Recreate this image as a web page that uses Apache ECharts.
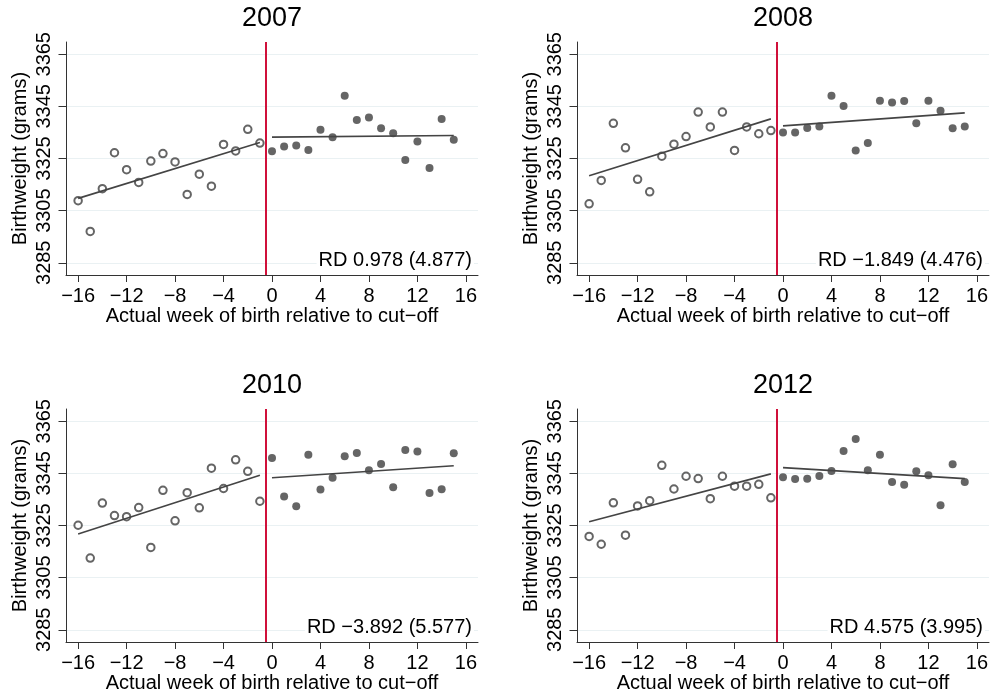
<!DOCTYPE html>
<html>
<head>
<meta charset="utf-8">
<script src="https://cdn.jsdelivr.net/npm/echarts@6/dist/echarts.min.js"></script>
<style>
html, body { margin: 0; padding: 0; background: #fff; }
#chart { width: 992px; height: 696px; }
</style>
</head>
<body>
<div id="chart"></div>
<script>
// data
var years = ['2007', '2008', '2010', '2012'];
var weeksBefore = [-16, -15, -14, -13, -12, -11, -10, -9, -8, -7, -6, -5, -4, -3, -2, -1];
var weeksAfter = [0, 1, 2, 3, 4, 5, 6, 7, 8, 9, 10, 11, 12, 13, 14, 15];
var xTicks = [-16, -12, -8, -4, 0, 4, 8, 12, 16];
var yTicks = [3285, 3305, 3325, 3345, 3365];

var before2007 = [3308.8, 3297.0, 3313.4, 3327.2, 3320.7, 3315.8, 3324.0, 3326.9, 3323.7, 3311.2, 3319.0, 3314.4, 3330.4, 3327.9, 3336.2, 3330.9];
var after2007 = [3327.8, 3329.6, 3330.0, 3328.3, 3336.0, 3333.2, 3349.1, 3339.8, 3340.7, 3336.6, 3334.7, 3324.4, 3331.5, 3321.4, 3340.2, 3332.2];
var before2008 = [3307.6, 3316.6, 3338.5, 3329.1, 3317.0, 3312.2, 3325.9, 3330.5, 3333.4, 3342.8, 3337.1, 3342.8, 3328.1, 3337.1, 3334.5, 3335.7];
var after2008 = [3335.0, 3335.0, 3336.7, 3337.3, 3349.1, 3345.1, 3328.1, 3330.9, 3347.2, 3346.5, 3347.1, 3338.5, 3347.2, 3343.3, 3336.6, 3337.3];
var before2010 = [3325.1, 3312.5, 3333.6, 3328.8, 3328.4, 3331.9, 3316.6, 3338.5, 3326.8, 3337.6, 3331.8, 3347.0, 3339.2, 3350.2, 3345.8, 3334.3];
var after2010 = [3350.9, 3336.1, 3332.4, 3352.1, 3338.8, 3343.3, 3351.6, 3352.8, 3346.2, 3348.6, 3339.7, 3354.0, 3353.4, 3337.5, 3338.9, 3352.7];
var before2012 = [3320.8, 3317.8, 3333.7, 3321.3, 3332.5, 3334.5, 3348.1, 3339.0, 3343.9, 3343.0, 3335.3, 3343.9, 3340.1, 3340.1, 3340.8, 3335.6];
var after2012 = [3343.5, 3342.8, 3342.9, 3344.0, 3345.9, 3353.6, 3358.2, 3346.2, 3352.1, 3341.7, 3340.6, 3345.8, 3344.3, 3332.8, 3348.5, 3341.7];

// fitted lines, value at first and last week of each side
var fitLeftX = [-16, -1];
var fitRightX = [0, 15];
var fitLeft = [[3309.7, 3331.1], [3318.4, 3340.2], [3321.7, 3344.3], [3326.4, 3344.8]];
var fitRight = [[3333.2, 3333.8], [3337.5, 3342.5], [3343.3, 3347.9], [3347.2, 3343.0]];
var rdLabels = ['RD 0.978 (4.877)', 'RD \u22121.849 (4.476)', 'RD \u22123.892 (5.577)', 'RD 4.575 (3.995)'];
var cutoff = -0.5;

var before = [before2007, before2008, before2010, before2012];
var after = [after2007, after2008, after2010, after2012];

var font = '"Liberation Sans", Arial, sans-serif';
var ink = '#3f3f3f';
var axisColor = '#333';

var panels = [
    { left: 66, top: 42 },
    { left: 577, top: 42 },
    { left: 66, top: 409 },
    { left: 577, top: 409 }
];
var pw = 412, ph = 233;

function zip(xs, ys) {
    return xs.map(function (x, i) { return [x, ys[i]]; });
}
function minus(v) {
    return String(v).replace('-', '\u2212');
}

var grid = [], xAxis = [], yAxis = [], series = [], title = [], graphic = [];

panels.forEach(function (p, i) {
    grid.push({ left: p.left, top: p.top, width: pw, height: ph });

    xAxis.push({
        gridIndex: i, type: 'value', min: -17, max: 17,
        name: 'Actual week of birth relative to cut\u2212off',
        nameLocation: 'middle', nameGap: 31,
        nameTextStyle: { fontFamily: font, fontSize: 20, color: '#000' },
        axisLine: { show: true, onZero: false, lineStyle: { color: axisColor, width: 1 } },
        axisTick: { show: true, length: 7, customValues: xTicks, lineStyle: { color: axisColor } },
        axisLabel: { customValues: xTicks, formatter: minus, fontFamily: font, fontSize: 20, color: '#000', margin: 11 },
        splitLine: { show: false }
    });

    yAxis.push({
        gridIndex: i, type: 'value', min: 3280.3, max: 3369.7,
        name: 'Birthweight (grams)',
        nameLocation: 'middle', nameGap: 36, nameRotate: 90,
        nameTextStyle: { fontFamily: font, fontSize: 20, color: '#000' },
        axisLine: { show: true, onZero: false, lineStyle: { color: axisColor, width: 1 } },
        axisTick: { show: true, length: 7.5, customValues: yTicks, lineStyle: { color: axisColor } },
        axisLabel: {
            customValues: yTicks, rotate: 90, fontFamily: font, fontSize: 20, color: '#000', margin: 12,
            formatter: function (v) { return String(v); }
        },
        splitLine: { show: true, lineStyle: { color: '#eaf1f3', width: 1 } }
    });

    series.push({
        type: 'scatter', xAxisIndex: i, yAxisIndex: i,
        symbol: 'emptyCircle', symbolSize: 7.5,
        itemStyle: { color: ink, borderColor: ink, borderWidth: 1.4 },
        data: zip(weeksBefore, before[i]),
        silent: true, animation: false
    });
    series.push({
        type: 'scatter', xAxisIndex: i, yAxisIndex: i,
        symbol: 'circle', symbolSize: 8,
        itemStyle: { color: ink },
        data: zip(weeksAfter, after[i]),
        silent: true, animation: false,
        markLine: {
            silent: true, symbol: 'none', animation: false,
            label: { show: false },
            lineStyle: { color: '#d0103a', width: 2, type: 'solid' },
            data: [{ xAxis: cutoff }]
        }
    });
    series.push({
        type: 'line', xAxisIndex: i, yAxisIndex: i,
        data: zip(fitLeftX, fitLeft[i]), showSymbol: false,
        lineStyle: { color: '#444', width: 1.6 }, silent: true, animation: false
    });
    series.push({
        type: 'line', xAxisIndex: i, yAxisIndex: i,
        data: zip(fitRightX, fitRight[i]), showSymbol: false,
        lineStyle: { color: '#444', width: 1.6 }, silent: true, animation: false
    });

    title.push({
        text: years[i], left: p.left + pw / 2, top: p.top - 37, textAlign: 'center', padding: 0,
        textStyle: { fontFamily: font, fontSize: 27, fontWeight: 'normal', color: '#000' }
    });

    graphic.push({
        type: 'text', x: p.left + pw - 4, y: p.top + ph - 15, silent: true, z: 100,
        style: {
            text: rdLabels[i], fill: '#000', font: '20px ' + font,
            textAlign: 'right', textVerticalAlign: 'middle',
            backgroundColor: '#fff', padding: [0, 2, 0, 2]
        }
    });
});

var myChart = echarts.init(document.getElementById('chart'));
myChart.setOption({
    animation: false,
    title: title,
    grid: grid,
    xAxis: xAxis,
    yAxis: yAxis,
    series: series,
    graphic: graphic
});
</script>
</body>
</html>
